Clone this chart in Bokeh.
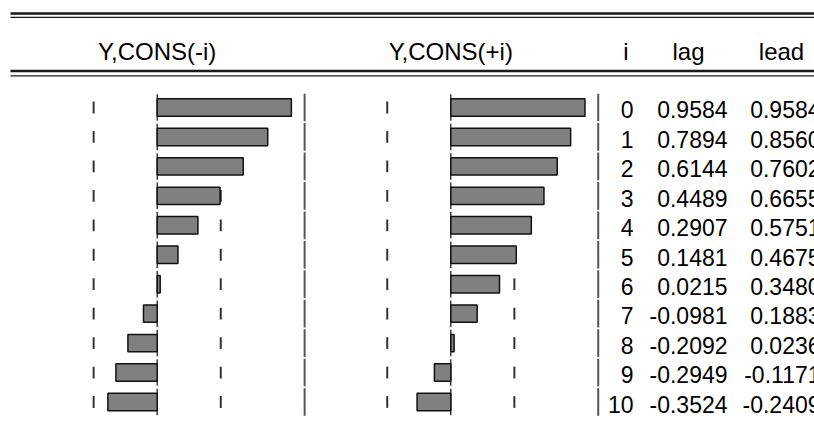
from bokeh.plotting import figure
from bokeh.models import Range1d, ColumnDataSource
from bokeh.core.properties import value
from bokeh.embed import file_html
from bokeh.resources import INLINE

# ---- data ----
lags_i = [0, 1, 2, 3, 4, 5, 6, 7, 8, 9, 10]
lag_vals = [0.9584, 0.7894, 0.6144, 0.4489, 0.2907, 0.1481, 0.0215, -0.0981, -0.2092, -0.2949, -0.3524]
lead_vals = [0.9584, 0.8560, 0.7602, 0.6655, 0.5751, 0.4675, 0.3480, 0.1883, 0.0236, -0.1171, -0.2409]
band = 0.454          # approx. 2/sqrt(T) confidence band
header_labels = ["Y,CONS(-i)", "Y,CONS(+i)"]
table_headers = ["i", "lag", "lead"]

W, H = 814, 423
FONT = "Liberation Sans"

p = figure(width=W, height=H, output_backend="svg", toolbar_location=None,
           x_range=Range1d(0, W), y_range=Range1d(10.730, -3.633),
           x_axis_location=None, y_axis_location=None, min_border=0)
p.outline_line_color = None
p.xgrid.visible = False
p.ygrid.visible = False
p.background_fill_color = "white"
p.border_fill_color = "white"

# panel ranges in correlation units (140 px per unit)
scale = 140.0
zl, zr = 156.7, 450.3
p.extra_x_ranges = {
    "L": Range1d(-zl / scale, (W - zl) / scale),
    "R": Range1d(-zr / scale, (W - zr) / scale),
}
p.extra_y_ranges = {"px": Range1d(H, 0)}

rows = lags_i
for rng, vals in (("L", lag_vals), ("R", lead_vals)):
    # zero line segments
    p.segment(x0=[0] * len(rows), x1=[0] * len(rows),
              y0=[r - 0.45 for r in rows], y1=[r + 0.45 for r in rows],
              x_range_name=rng, line_color="#222222", line_width=1.3)
    # band ticks
    for b in (-band, band):
        p.segment(x0=[b] * len(rows), x1=[b] * len(rows),
                  y0=[r - 0.2 for r in rows], y1=[r + 0.2 for r in rows],
                  x_range_name=rng, line_color="#333333", line_width=2)
    # right boundary
    p.segment(x0=[1.053] * len(rows), x1=[1.053] * len(rows),
              y0=[r - 0.47 for r in rows], y1=[r + 0.47 for r in rows],
              x_range_name=rng, line_color="#555555", line_width=2)
    # bars
    p.hbar(y=rows, left=0, right=vals, height=0.59, x_range_name=rng,
           fill_color="#808080", line_color="#111111", line_width=1.5)

# header double lines (pixel coordinates)
for yy, lw in ((13, 2.6), (16.8, 1.2), (70.5, 2.6), (75.4, 1.2)):
    p.segment(x0=[10], x1=[W], y0=[yy], y1=[yy], y_range_name="px",
              line_color="#1a1a1a", line_width=lw)

# panel headers
hdr_y = 51.3
p.text(x=[0], y=[hdr_y], text=[header_labels[0]], x_range_name="L", y_range_name="px",
       text_font=value(FONT), text_font_size="24px", text_align="center",
       text_baseline="alphabetic", text_color="black")
p.text(x=[0], y=[hdr_y], text=[header_labels[1]], x_range_name="R", y_range_name="px",
       text_font=value(FONT), text_font_size="24px", text_align="center",
       text_baseline="alphabetic", text_color="black")
p.text(x=[625.5, 688, 781], y=[hdr_y] * 3, text=table_headers, y_range_name="px",
       text_font=value(FONT), text_font_size="24px", text_align="center",
       text_baseline="alphabetic", text_color="black")

# table
src = ColumnDataSource(dict(
    y=rows,
    i=[str(r) for r in rows],
    lag=[f"{v:.4f}" for v in lag_vals],
    lead=[f"{v:.4f}" for v in lead_vals],
))
for col, xx in (("i", 633), ("lag", 727), ("lead", 820)):
    p.text(x=xx, y="y", text=col, source=src, y_offset=2.3,
           text_font=value(FONT), text_font_size="23px", text_align="right",
           text_baseline="alphabetic", text_color="black")

open("out.html", "w").write(file_html(p, INLINE))
